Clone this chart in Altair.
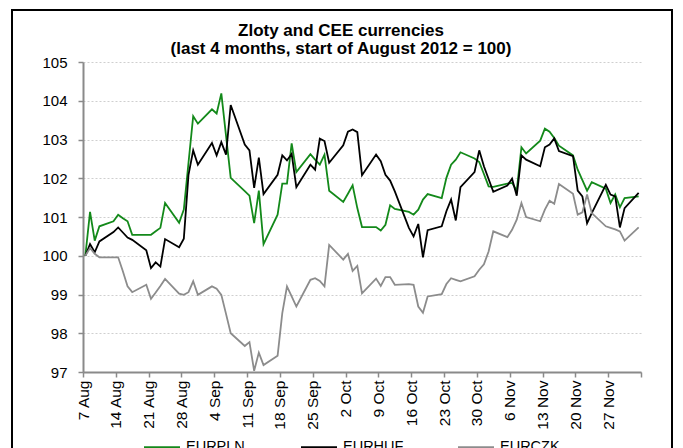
import json
import pandas as pd
import altair as alt

# ---------------- data ----------------
series_names = ["EURPLN", "EURHUF", "EURCZK"]
series_colors = ["#13891a", "#000000", "#8c8c8c"]

# business days from 7 Aug 2012 to 3 Dec 2012
dates = [d.strftime("%Y-%m-%d") for d in pd.bdate_range("2012-08-07", "2012-12-03")]

eurpln = [
    100.00, 101.13, 100.39, 100.76,
    100.89, 101.06, 100.97, 100.89, 100.54,
    100.54, 100.54, 100.63, 100.72, 101.36,
    100.85, 101.19, 102.40, 103.60, 103.41,
    103.78, 103.67, 104.19, 103.10, 102.01,
    101.67, 101.55, 100.84, 101.68, 100.30,
    101.06, 101.86, 101.86, 102.90, 102.16,
    102.62, 102.48, 102.35, 102.61, 101.68,
    101.39, 101.60, 101.82, 101.23, 100.74,
    100.74, 100.65, 100.80, 101.30, 101.21,
    101.13, 101.06, 101.19, 101.45, 101.59,
    101.49, 102.01, 102.35, 102.48, 102.67,
    102.51, 102.42, 102.11, 101.79, 101.78,
    101.86, 101.88, 101.68, 102.80, 102.64,
    102.97, 103.28, 103.20, 103.04, 102.84,
    102.59, 102.22, 101.95, 101.68, 101.90,
    101.73, 101.36, 101.58, 101.25, 101.49,
    101.53,
]
eurhuf = [
    100.00, 100.30, 100.09, 100.37,
    100.61, 100.73, 100.60, 100.47, 100.41,
    100.14, 99.68, 99.83, 99.72, 100.43,
    100.22, 100.44, 102.09, 102.72, 102.35,
    102.91, 102.59, 102.93, 102.61, 103.89,
    102.87, 102.72, 101.75, 102.53, 101.59,
    102.09, 102.59, 102.46, 102.63, 101.77,
    102.35, 102.22, 103.02, 102.96, 102.40,
    102.85, 103.20, 103.26, 103.19, 102.08,
    102.61, 102.44, 102.09, 101.94, 101.66,
    100.72, 100.50, 100.82, 99.96, 100.66,
    100.76, 101.15, 101.45, 100.91, 101.77,
    102.16, 102.72, 102.31, 101.98, 101.65,
    101.81, 101.99, 101.55, 102.59, 102.48,
    102.31, 102.80, 102.87, 103.03, 102.70,
    102.57, 101.68, 101.53, 100.84, 101.10,
    101.83, 101.58, 101.53, 100.73, 101.23,
    101.62,
]
eurczk = [
    100.00, 100.20, 100.05, 99.96,
    99.96, 99.96, 99.60, 99.21, 99.06,
    99.25, 98.89, 99.05, 99.22, 99.40,
    99.02, 98.99, 99.06, 99.34, 98.99,
    99.21, 99.15, 98.99, 98.50, 98.00,
    97.67, 97.77, 97.03, 97.50, 97.18,
    97.42, 98.52, 99.21, 98.95, 98.69,
    99.38, 99.42, 99.35, 99.21, 100.28,
    99.90, 100.05, 99.61, 99.74, 99.03,
    99.41, 99.22, 99.45, 99.45, 99.25,
    99.27, 99.25, 98.69, 98.53, 98.95,
    99.01, 99.27, 99.42, 99.38, 99.34,
    99.47, 99.64, 99.78, 100.11, 100.63,
    100.48, 100.67, 100.93, 101.36, 101.00,
    100.89, 101.19, 101.42, 101.34, 101.85,
    101.60, 101.06, 101.12, 101.58, 101.10,
    100.76, 100.72, 100.68, 100.63, 100.39,
    100.73,
]

tick_labels = ["7 Aug", "14 Aug", "21 Aug", "28 Aug", "4 Sep", "11 Sep", "18 Sep",
               "25 Sep", "2 Oct", "9 Oct", "16 Oct", "23 Oct", "30 Oct", "6 Nov",
               "13 Nov", "20 Nov", "27 Nov", ""]

title_lines = ["Zloty and CEE currencies", "(last 4 months, start of August 2012 = 100)"]

# ---------------- table ----------------
start = pd.Timestamp("2012-08-07")
rows = []
for name, vals in zip(series_names, [eurpln, eurhuf, eurczk]):
    for d, v in zip(dates, vals):
        rows.append({"day": (pd.Timestamp(d) - start).days + 0.5, "value": v,
                     "series": name, "date": d})
df = pd.DataFrame(rows)

FONT = "Liberation Sans"
W, H = 558, 310

label_expr = json.dumps(tick_labels) + "[round(datum.value / 7)]"

lines = alt.Chart(df).mark_line(strokeWidth=1.8).encode(
    x=alt.X("day:Q",
            scale=alt.Scale(domain=[0, 119], nice=False, zero=False),
            axis=alt.Axis(values=list(range(0, 120, 7)), labelExpr=label_expr,
                          labelAngle=270, title=None, grid=False,
                          tickSize=5, labelPadding=3, labelFontSize=15.5)),
    y=alt.Y("value:Q",
            scale=alt.Scale(domain=[97, 105], nice=False, zero=False),
            axis=alt.Axis(values=list(range(97, 106)), format="d", title=None,
                          tickSize=5, labelPadding=11, grid=True, labelFontSize=15)),
    color=alt.Color("series:N",
                    scale=alt.Scale(domain=series_names, range=series_colors),
                    legend=alt.Legend(title=None, orient="none", direction="horizontal",
                                      legendX=60, legendY=366, symbolType="stroke",
                                      symbolSize=1296, symbolStrokeWidth=2,
                                      labelFontSize=14.5, labelFont=FONT, labelOffset=5,
                                      columnPadding=50, gridAlign="all", padding=0)),
    order=alt.Order("day:Q"),
)

border = alt.Chart(pd.DataFrame({"k": [0]})).mark_rect(
    fill="transparent", stroke="black", strokeWidth=2
).encode(
    x=alt.value(-71), x2=alt.value(589), y=alt.value(-52), y2=alt.value(420)
)

title = alt.Chart(pd.DataFrame({"k": [0]})).mark_text(
    text=title_lines, font=FONT, fontSize=17, fontWeight="bold", color="black",
    align="center", baseline="alphabetic", lineHeight=18
).encode(
    x=alt.value(258), y=alt.value(-26)
)

chart = alt.layer(border, lines, title).properties(
    width=W, height=H,
    autosize=alt.AutoSizeParams(type="none"),
    padding={"left": 75, "top": 54, "right": 34, "bottom": 76},
).configure_view(stroke=None).configure_axis(
    labelFont=FONT, labelFontSize=14, labelColor="black",
    domainColor="#8a8a8a", domainWidth=2, tickColor="#8a8a8a", tickWidth=1.5,
    gridColor="#cfcfcf", gridDash=[2, 2], gridWidth=1,
)

chart.save("out.html", embed_options={"renderer": "svg", "actions": False})
